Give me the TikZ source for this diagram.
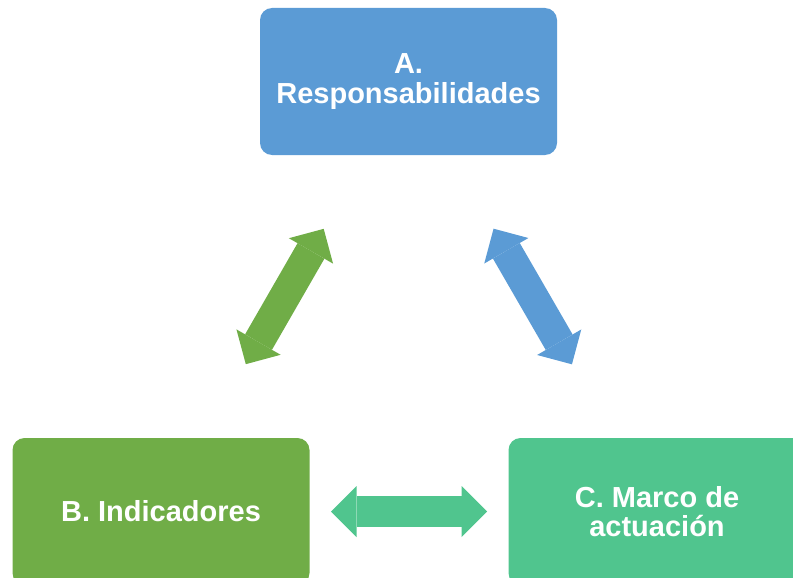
\documentclass[tikz,border=0pt]{standalone}
\usepackage{fontspec}
\setmainfont{Liberation Sans}
\usepackage{tikz}
\usetikzlibrary{arrows.meta,positioning,calc}
\usepackage{xcolor}
\definecolor{boxblue}{HTML}{5B9BD5}
\definecolor{boxgreen}{HTML}{70AD47}
\definecolor{boxteal}{HTML}{50C58E}

\begin{document}
\begin{tikzpicture}[x=1pt, y=-1pt,
    block/.style={rounded corners=12pt, minimum width=297pt, minimum height=147pt,
      align=center, text=white, font=\bfseries\fontsize{29}{29.5}\selectfont},
    link/.style={line width=31pt, shorten <=170pt, shorten >=170pt,
      {Triangle[length=25.5pt, width=51pt, line width=0pt]}-{Triangle[length=25.5pt, width=51pt, line width=0pt]}}]
  \useasboundingbox (0,0) rectangle (793,578);
  \node[block, fill=boxblue] (A) at (408.5,81.5) {A.\\Responsabilidades};
  \node[block, fill=boxgreen] (B) at (161,511.5) {B. Indicadores};
  \node[block, fill=boxteal] (C) at (657,511.5) {C. Marco de\\actuaci\'on};
  \draw[link, boxgreen] (A.center) -- (B.center);
  \draw[link, boxblue] (A.center) -- (C.center);
  \draw[link, boxteal] (B.center) -- (C.center);
\end{tikzpicture}
\end{document}
